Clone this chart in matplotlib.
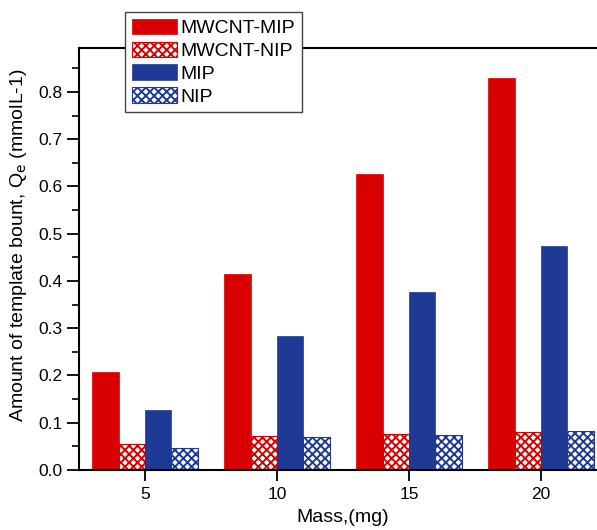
import numpy as np
import matplotlib.pyplot as plt
from matplotlib.ticker import MultipleLocator

plt.rcParams['font.family'] = ['Liberation Sans', 'DejaVu Sans']
plt.rcParams['hatch.linewidth'] = 1.4

# dati: quantita' di template legato per massa di polimero
massa = [5, 10, 15, 20]
mwcnt_mip = [0.207, 0.415, 0.627, 0.830]
mwcnt_nip = [0.056, 0.071, 0.077, 0.081]
mip = [0.128, 0.283, 0.376, 0.474]
nip = [0.046, 0.069, 0.075, 0.082]

rosso = '#D80000'
blu = '#1F3A94'

fig = plt.figure(figsize=(5.97, 5.30), dpi=100)
# asse piu' largo della figura: il bordo destro resta fuori
ax = fig.add_axes([79/597, 1-470/530, 528/597, 422/530])

x = np.array(massa, dtype=float)
w = 1.0
ax.bar(x - 1.5*w, mwcnt_mip, w, color=rosso, edgecolor=rosso, lw=0.5, label='MWCNT-MIP')
ax.bar(x - 0.5*w, mwcnt_nip, w, color='white', edgecolor=rosso, hatch='xxxx', lw=0.8, label='MWCNT-NIP')
ax.bar(x + 0.5*w, mip, w, color=blu, edgecolor=blu, lw=0.5, label='MIP')
ax.bar(x + 1.5*w, nip, w, color='white', edgecolor=blu, hatch='xxxx', lw=0.8, label='NIP')

ax.set_xlim(2.5, 22.5)
ax.set_ylim(0, 0.893)
ax.set_xticks(massa)
ax.yaxis.set_major_locator(MultipleLocator(0.1))
ax.yaxis.set_minor_locator(MultipleLocator(0.05))
ax.tick_params(axis='both', direction='out', labelsize=12.5, width=1.3)
ax.tick_params(axis='y', which='major', length=9, pad=3)
ax.tick_params(axis='y', which='minor', length=5, width=1.2)
ax.tick_params(axis='x', which='major', length=8, pad=4)
for s in ax.spines.values():
    s.set_linewidth(1.5)

ax.set_xlabel('Mass,(mg)', fontsize=14)
ax.xaxis.set_label_coords(0.5, -0.092)
ax.set_ylabel('Amount of template bount, Q$_\\mathrm{e}$ (mmolL-1)', fontsize=14)
ax.yaxis.set_label_coords(-0.095, 0.533)

leg = ax.legend(loc='upper left', bbox_to_anchor=(125/597, 1-12/530),
                bbox_transform=fig.transFigure, fontsize=14, frameon=True,
                fancybox=False, edgecolor='#444444', framealpha=1,
                handlelength=2.3, handleheight=0.85, handletextpad=0.2,
                labelspacing=0.22, borderpad=0.35, borderaxespad=0)
leg.get_frame().set_linewidth(1.0)

fig.savefig('out.png', dpi=100)
